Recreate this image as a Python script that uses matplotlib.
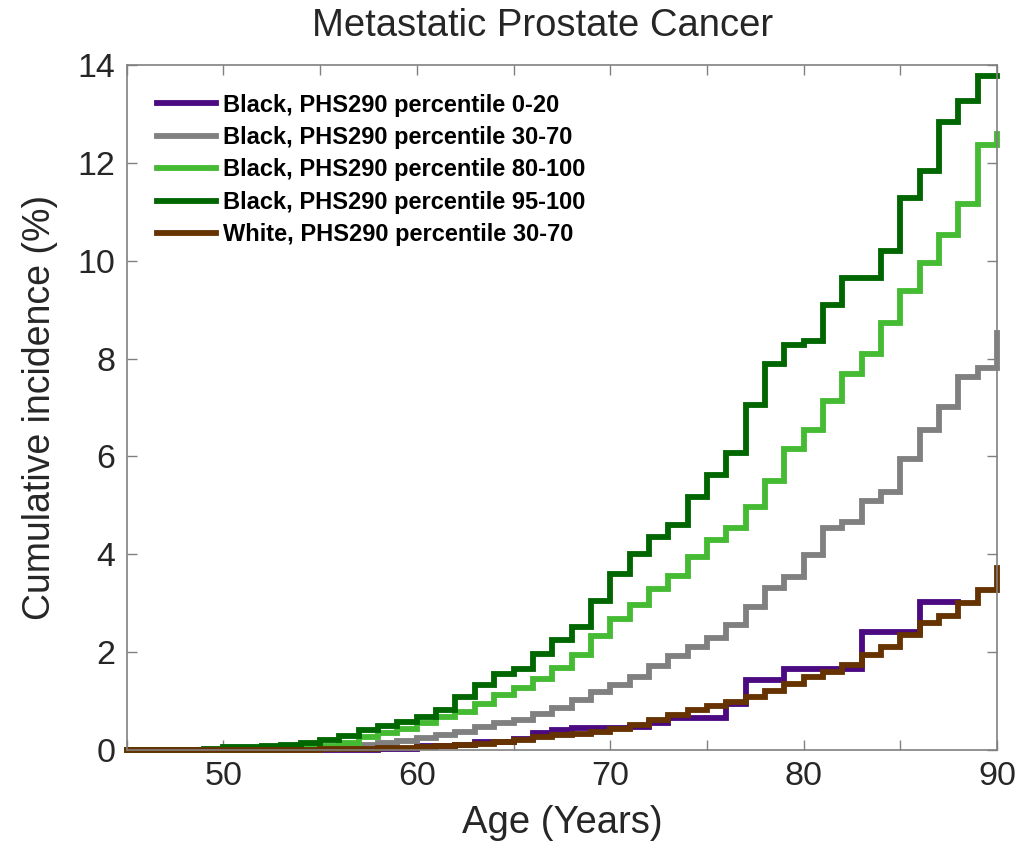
import numpy as np
import matplotlib
matplotlib.use("Agg")
import matplotlib.pyplot as plt

plt.rcParams['font.family'] = ['Liberation Sans', 'DejaVu Sans']

ages = list(range(45, 91))          # 45..90
ages_purple = list(range(45, 89))   # 45..88

black_0_20 = [0, 0, 0, 0, 0, 0, 0, 0, 0, 0, 0, 0, 0, 0.03, 0.03, 0.08, 0.08, 0.10,
              0.17, 0.17, 0.22, 0.34, 0.40, 0.44, 0.45, 0.45, 0.46, 0.55, 0.65, 0.65,
              0.65, 0.93, 1.43, 1.43, 1.65, 1.65, 1.65, 1.65, 2.41, 2.41, 2.41, 3.03,
              3.03, 3.03]
black_30_70 = [0, 0, 0, 0, 0, 0, 0, 0, 0, 0, 0.02, 0.05, 0.10, 0.14, 0.19, 0.24,
               0.31, 0.37, 0.46, 0.55, 0.61, 0.73, 0.85, 1.02, 1.19, 1.33, 1.50, 1.72,
               1.92, 2.10, 2.28, 2.56, 2.92, 3.31, 3.54, 3.99, 4.53, 4.65, 5.08, 5.28,
               5.94, 6.53, 7.02, 7.63, 7.81, 8.52]
black_80_100 = [0, 0, 0, 0, 0, 0, 0, 0, 0.02, 0.05, 0.09, 0.15, 0.26, 0.34, 0.42,
                0.55, 0.68, 0.78, 0.93, 1.12, 1.26, 1.45, 1.67, 1.94, 2.33, 2.68, 2.97,
                3.29, 3.56, 3.95, 4.29, 4.53, 4.96, 5.49, 6.16, 6.53, 7.14, 7.69, 8.09,
                8.73, 9.39, 9.95, 10.53, 11.16, 12.37, 12.58]
black_95_100 = [0, 0, 0, 0, 0.03, 0.06, 0.07, 0.09, 0.11, 0.14, 0.20, 0.29, 0.41,
                0.48, 0.58, 0.68, 0.82, 1.08, 1.32, 1.55, 1.65, 1.96, 2.24, 2.52, 3.05,
                3.60, 4.01, 4.36, 4.60, 5.17, 5.62, 6.07, 7.05, 7.89, 8.27, 8.36, 9.09,
                9.65, 9.65, 10.20, 11.29, 11.83, 12.84, 13.26, 13.78, 13.78]
white_30_70 = [0, 0, 0, 0, 0, 0, 0, 0, 0, 0, 0.01, 0.02, 0.03, 0.04, 0.05, 0.07,
               0.08, 0.11, 0.13, 0.17, 0.21, 0.26, 0.30, 0.33, 0.37, 0.42, 0.51, 0.61,
               0.72, 0.82, 0.90, 0.99, 1.09, 1.21, 1.34, 1.49, 1.60, 1.74, 1.94, 2.10,
               2.34, 2.59, 2.73, 3.00, 3.26, 3.72]

labels = ["Black, PHS290 percentile 0-20",
          "Black, PHS290 percentile 30-70",
          "Black, PHS290 percentile 80-100",
          "Black, PHS290 percentile 95-100",
          "White, PHS290 percentile 30-70"]
colors = ["#4b0a82", "#808080", "#44bb33", "#006600", "#663300"]

xticks = list(range(45, 91, 5))
xticklabels = [str(t) if t % 10 == 0 else "" for t in xticks]
yticks = list(range(0, 15, 2))

fig = plt.figure(figsize=(10.30, 8.44), dpi=100)
ax = fig.add_axes([0.123, 0.1114, 0.845, 0.8116])

series = [(ages_purple, black_0_20), (ages, black_30_70), (ages, black_80_100),
          (ages, black_95_100), (ages, white_30_70)]
for (x, y), lab, c in zip(series, labels, colors):
    ax.step(x, y, where='post', color=c, lw=4.2, label=lab, clip_on=False,
            solid_joinstyle='miter')

ax.set_xlim(45, 90)
ax.set_ylim(0, 14)
ax.set_xticks(xticks)
ax.set_xticklabels(xticklabels)
ax.set_yticks(yticks)

spine_c = "#808080"
for s in ax.spines.values():
    s.set_color(spine_c)
    s.set_linewidth(1.2)
ax.tick_params(direction='in', length=7, width=1, colors=spine_c,
               top=True, right=True, labelsize=24.5, labelcolor='#262626', pad=8)

ax.set_title("Metastatic Prostate Cancer", fontsize=27.5, color='#262626', pad=21,
             x=0.478)
ax.set_xlabel("Age (Years)", fontsize=27.5, color='#262626', labelpad=9)
ax.set_ylabel("Cumulative incidence (%)", fontsize=27, color='#262626', labelpad=14)

leg = ax.legend(loc='upper left', bbox_to_anchor=(0.018, 0.979), frameon=False,
                prop={'weight': 'bold', 'size': 17.0}, handlelength=2.5,
                handletextpad=0.3, labelspacing=0.4, borderaxespad=0.2)
for t in leg.get_texts():
    t.set_color('black')

fig.savefig("out.png", dpi=100)
